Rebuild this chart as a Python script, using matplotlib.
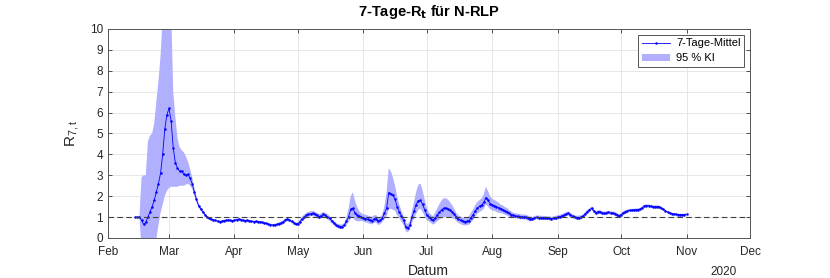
#!/usr/bin/env python

import matplotlib
matplotlib.use("Agg")
import matplotlib.pyplot as plt
import matplotlib.dates as mdates
import numpy as np

plt.rcParams['font.family'] = ['Liberation Sans', 'DejaVu Sans']
plt.rcParams['mathtext.default'] = 'regular'

# daily values from 2020-02-14 to 2020-11-01
start_day = '2020-02-14'

r7_mean = [
    # Feb
    1.0, 1.0, 1.0, 0.85, 0.65, 0.75, 1.0, 1.25, 1.5, 1.8, 2.2, 2.6, 3.1, 4.0, 5.2, 5.9,
    # Mar
    6.2, 5.6, 4.3, 3.6, 3.35, 3.2, 3.2, 3.05, 3.0, 3.05, 2.85, 2.6, 2.2, 1.85, 1.55, 1.4,
    1.25, 1.12, 1.0, 0.94, 0.9, 0.86, 0.84, 0.8, 0.78, 0.8, 0.83, 0.84, 0.86, 0.84, 0.82,
    # Apr
    0.85, 0.88, 0.9, 0.88, 0.85, 0.83, 0.84, 0.82, 0.79, 0.78, 0.79, 0.78, 0.77, 0.75, 0.72,
    0.7, 0.67, 0.64, 0.62, 0.63, 0.65, 0.68, 0.72, 0.77, 0.85, 0.9, 0.86, 0.79, 0.73, 0.68,
    # May
    0.68, 0.78, 0.9, 1.0, 1.08, 1.13, 1.16, 1.18, 1.14, 1.08, 1.02, 1.06, 1.13, 1.08, 1.02,
    0.94, 0.82, 0.72, 0.63, 0.57, 0.55, 0.55, 0.62, 0.8, 1.02, 1.37, 1.42, 1.2, 1.1, 1.03, 1.0,
    # Jun
    0.97, 0.93, 0.9, 0.86, 0.83, 0.9, 0.92, 0.8, 0.84, 0.95, 1.2, 1.42, 2.17, 2.12, 2.05,
    1.85, 1.5, 1.25, 1.05, 0.85, 0.55, 0.46, 0.6, 1.0, 1.3, 1.6, 1.78, 1.8, 1.62, 1.36,
    # Jul
    1.12, 1.0, 0.92, 0.84, 0.95, 1.1, 1.22, 1.35, 1.42, 1.43, 1.4, 1.34, 1.25, 1.15, 1.0,
    0.9, 0.85, 0.8, 0.78, 0.8, 0.83, 0.98, 1.12, 1.3, 1.44, 1.52, 1.58, 1.7, 1.93, 1.8, 1.65,
    # Aug
    1.58, 1.55, 1.5, 1.45, 1.4, 1.36, 1.3, 1.26, 1.18, 1.12, 1.08, 1.06, 1.04, 1.02, 1.01,
    1.0, 0.99, 0.95, 0.9, 0.92, 0.96, 0.99, 0.98, 0.97, 0.97, 0.96, 0.95, 0.94, 0.93, 0.94, 0.97,
    # Sep
    1.0, 1.02, 1.06, 1.1, 1.15, 1.18, 1.12, 1.04, 0.99, 0.98, 0.98, 1.0, 1.05, 1.15, 1.26,
    1.34, 1.42, 1.3, 1.2, 1.25, 1.26, 1.2, 1.18, 1.2, 1.22, 1.2, 1.19, 1.17, 1.12, 1.05,
    # Oct
    1.12, 1.2, 1.26, 1.3, 1.32, 1.33, 1.34, 1.35, 1.36, 1.38, 1.45, 1.53, 1.55, 1.55, 1.52,
    1.5, 1.5, 1.5, 1.5, 1.44, 1.37, 1.3, 1.24, 1.2, 1.17, 1.15, 1.13, 1.12, 1.12, 1.12, 1.12,
    # Nov
    1.13,
]

ci_lower = [
    1.0, 1.0, 1.0, -0.5, -1.0, -1.0, -1.0, -0.8, -0.5, -0.2, -0.05, 0.6, 1.2, 1.6, 2.0, 2.25,
    2.4, 2.45, 2.45, 2.45, 2.45, 2.5, 2.5, 2.5, 2.55, 2.6, 2.5, 2.35, 2.0, 1.7, 1.45, 1.32,
    1.18, 1.06, 0.95, 0.89, 0.85, 0.81, 0.79, 0.75, 0.73, 0.75, 0.78, 0.79, 0.81, 0.79, 0.77,
    0.8, 0.83, 0.85, 0.83, 0.8, 0.78, 0.79, 0.77, 0.74, 0.73, 0.74, 0.73, 0.72, 0.7, 0.67,
    0.65, 0.62, 0.59, 0.57, 0.58, 0.6, 0.61, 0.65, 0.7, 0.78, 0.83, 0.79, 0.72, 0.66, 0.61,
    0.61, 0.66, 0.78, 0.88, 0.96, 1.01, 1.04, 1.06, 1.02, 0.96, 0.9, 0.94, 1.01, 0.96, 0.9,
    0.82, 0.72, 0.62, 0.53, 0.47, 0.45, 0.45, 0.52, 0.6, 0.75, 0.95, 1.0, 0.85, 0.8, 0.8, 0.82,
    0.79, 0.75, 0.72, 0.68, 0.65, 0.72, 0.74, 0.62, 0.66, 0.77, 0.9, 1.05, 1.35, 1.4, 1.35,
    1.3, 1.1, 0.95, 0.8, 0.63, 0.35, 0.26, 0.4, 0.72, 0.95, 1.15, 1.35, 1.4, 1.25, 1.05,
    0.85, 0.8, 0.72, 0.64, 0.7, 0.8, 0.88, 0.95, 1.0, 1.02, 1.0, 0.98, 0.95, 0.92, 0.82,
    0.72, 0.67, 0.62, 0.6, 0.62, 0.63, 0.75, 0.87, 1.03, 1.17, 1.25, 1.3, 1.4, 1.6, 1.5, 1.38,
    1.32, 1.3, 1.25, 1.2, 1.2, 1.16, 1.12, 1.08, 1.02, 0.97, 0.96, 0.94, 0.92, 0.9, 0.89,
    0.88, 0.87, 0.83, 0.78, 0.83, 0.87, 0.9, 0.89, 0.88, 0.88, 0.87, 0.86, 0.85, 0.84, 0.85, 0.88,
    0.91, 0.93, 0.97, 1.01, 1.06, 1.09, 1.03, 0.95, 0.9, 0.89, 0.89, 0.91, 0.96, 1.06, 1.17,
    1.26, 1.34, 1.22, 1.12, 1.17, 1.18, 1.12, 1.1, 1.12, 1.14, 1.12, 1.11, 1.09, 1.04, 0.97,
    1.04, 1.12, 1.18, 1.24, 1.26, 1.27, 1.28, 1.29, 1.3, 1.32, 1.39, 1.47, 1.49, 1.49, 1.46,
    1.44, 1.44, 1.44, 1.44, 1.38, 1.33, 1.26, 1.2, 1.16, 1.13, 1.11, 1.09, 1.08, 1.08, 1.08, 1.08,
    1.09,
]

ci_upper = [
    1.0, 1.0, 1.0, 2.9, 3.0, 3.0, 4.6, 4.9, 5.0, 5.5, 6.5, 7.5, 8.7, 10.5, 12.0, 13.0,
    13.0, 11.0, 7.0, 5.8, 4.8, 4.35, 4.2, 4.1, 3.9, 3.65, 3.3, 2.9, 2.4, 2.0, 1.65, 1.48,
    1.32, 1.18, 1.05, 0.99, 0.95, 0.91, 0.89, 0.85, 0.83, 0.85, 0.88, 0.89, 0.91, 0.89, 0.87,
    0.9, 0.93, 0.95, 0.93, 0.9, 0.88, 0.89, 0.87, 0.84, 0.83, 0.84, 0.83, 0.82, 0.8, 0.77,
    0.75, 0.72, 0.69, 0.67, 0.68, 0.7, 0.75, 0.79, 0.84, 0.92, 0.97, 0.93, 0.86, 0.8, 0.75,
    0.75, 0.9, 1.02, 1.12, 1.2, 1.25, 1.28, 1.3, 1.26, 1.2, 1.14, 1.18, 1.25, 1.2, 1.14,
    1.06, 0.92, 0.82, 0.73, 0.67, 0.65, 0.65, 0.72, 1.0, 1.4, 2.0, 2.18, 1.8, 1.5, 1.3, 1.18,
    1.15, 1.11, 1.08, 1.04, 1.01, 1.08, 1.1, 0.98, 1.02, 1.13, 1.55, 2.2, 3.33, 3.2, 2.9,
    2.5, 2.0, 1.6, 1.3, 1.07, 0.75, 0.66, 0.8, 1.3, 1.75, 2.2, 2.55, 2.6, 2.3, 1.85,
    1.45, 1.22, 1.12, 1.04, 1.22, 1.42, 1.62, 1.8, 1.9, 1.9, 1.85, 1.72, 1.58, 1.4, 1.2,
    1.08, 1.03, 0.98, 0.96, 0.98, 1.05, 1.22, 1.38, 1.58, 1.72, 1.82, 1.9, 2.1, 2.45, 2.25, 2.0,
    1.88, 1.82, 1.76, 1.7, 1.6, 1.56, 1.48, 1.44, 1.34, 1.27, 1.2, 1.18, 1.16, 1.14, 1.13,
    1.12, 1.11, 1.07, 1.02, 1.01, 1.05, 1.08, 1.07, 1.06, 1.06, 1.05, 1.04, 1.03, 1.02, 1.03, 1.06,
    1.09, 1.11, 1.15, 1.19, 1.24, 1.27, 1.21, 1.13, 1.08, 1.07, 1.07, 1.09, 1.14, 1.24, 1.35,
    1.42, 1.5, 1.38, 1.28, 1.33, 1.34, 1.28, 1.26, 1.28, 1.3, 1.28, 1.27, 1.25, 1.2, 1.13,
    1.2, 1.28, 1.34, 1.36, 1.38, 1.39, 1.4, 1.41, 1.42, 1.44, 1.51, 1.59, 1.61, 1.61, 1.58,
    1.56, 1.56, 1.56, 1.56, 1.5, 1.41, 1.34, 1.28, 1.24, 1.21, 1.19, 1.17, 1.16, 1.16, 1.16, 1.16,
    1.17,
]

dates = np.datetime64(start_day) + np.arange(len(r7_mean))

fig = plt.figure(figsize=(8.3, 2.78), dpi=100)
ax = fig.add_axes([0.1298, 0.1439, 0.7738, 0.7518])

band = ax.fill_between(dates, ci_lower, ci_upper, facecolor='#b0b0ff', edgecolor='none',
                       label='95 % KI', zorder=2)
line, = ax.plot(dates, r7_mean, '.-', color='blue', lw=0.6, ms=1.6,
                label='7-Tage-Mittel', zorder=3)
ax.axhline(1, color='#404040', ls='--', lw=0.8, dashes=(5, 3), zorder=4)

ax.set_xlim(np.datetime64('2020-02-01'), np.datetime64('2020-12-01'))
ax.set_ylim(0, 10)
ax.set_yticks(range(0, 11))
ax.xaxis.set_major_locator(mdates.MonthLocator())
ax.xaxis.set_major_formatter(mdates.DateFormatter('%b'))

ax.grid(True, color='#e3e3e3', lw=0.6)
ax.set_axisbelow(True)
ax.tick_params(direction='in', length=3, width=0.6, colors='#333333', labelsize=8.5,
               top=True, right=True, labelcolor='#262626')
ax.tick_params(axis='x', pad=6)
for s in ax.spines.values():
    s.set_color('#555555')
    s.set_linewidth(0.7)

ax.set_title('7-Tage-R$_\\mathbf{t}$ für N-RLP', fontsize=10.5, fontweight='bold', pad=9)
ax.set_xlabel('Datum', fontsize=10, color='#262626', labelpad=4)
ax.set_ylabel('R$_{7,t}$', fontsize=11, color='#262626', labelpad=6)
ax.text(0.9595, -0.165, '2020', transform=ax.transAxes, ha='center', va='center',
        fontsize=8.5, color='#262626')

leg = ax.legend([line, band], ['7-Tage-Mittel', '95 % KI'], loc='upper right', fontsize=8,
                fancybox=False, framealpha=1, edgecolor='#555555', handlelength=2.6,
                borderpad=0.35, labelspacing=0.45, borderaxespad=0.5, handletextpad=0.5)
leg.get_frame().set_linewidth(0.7)

fig.savefig('out.png', dpi=100)
